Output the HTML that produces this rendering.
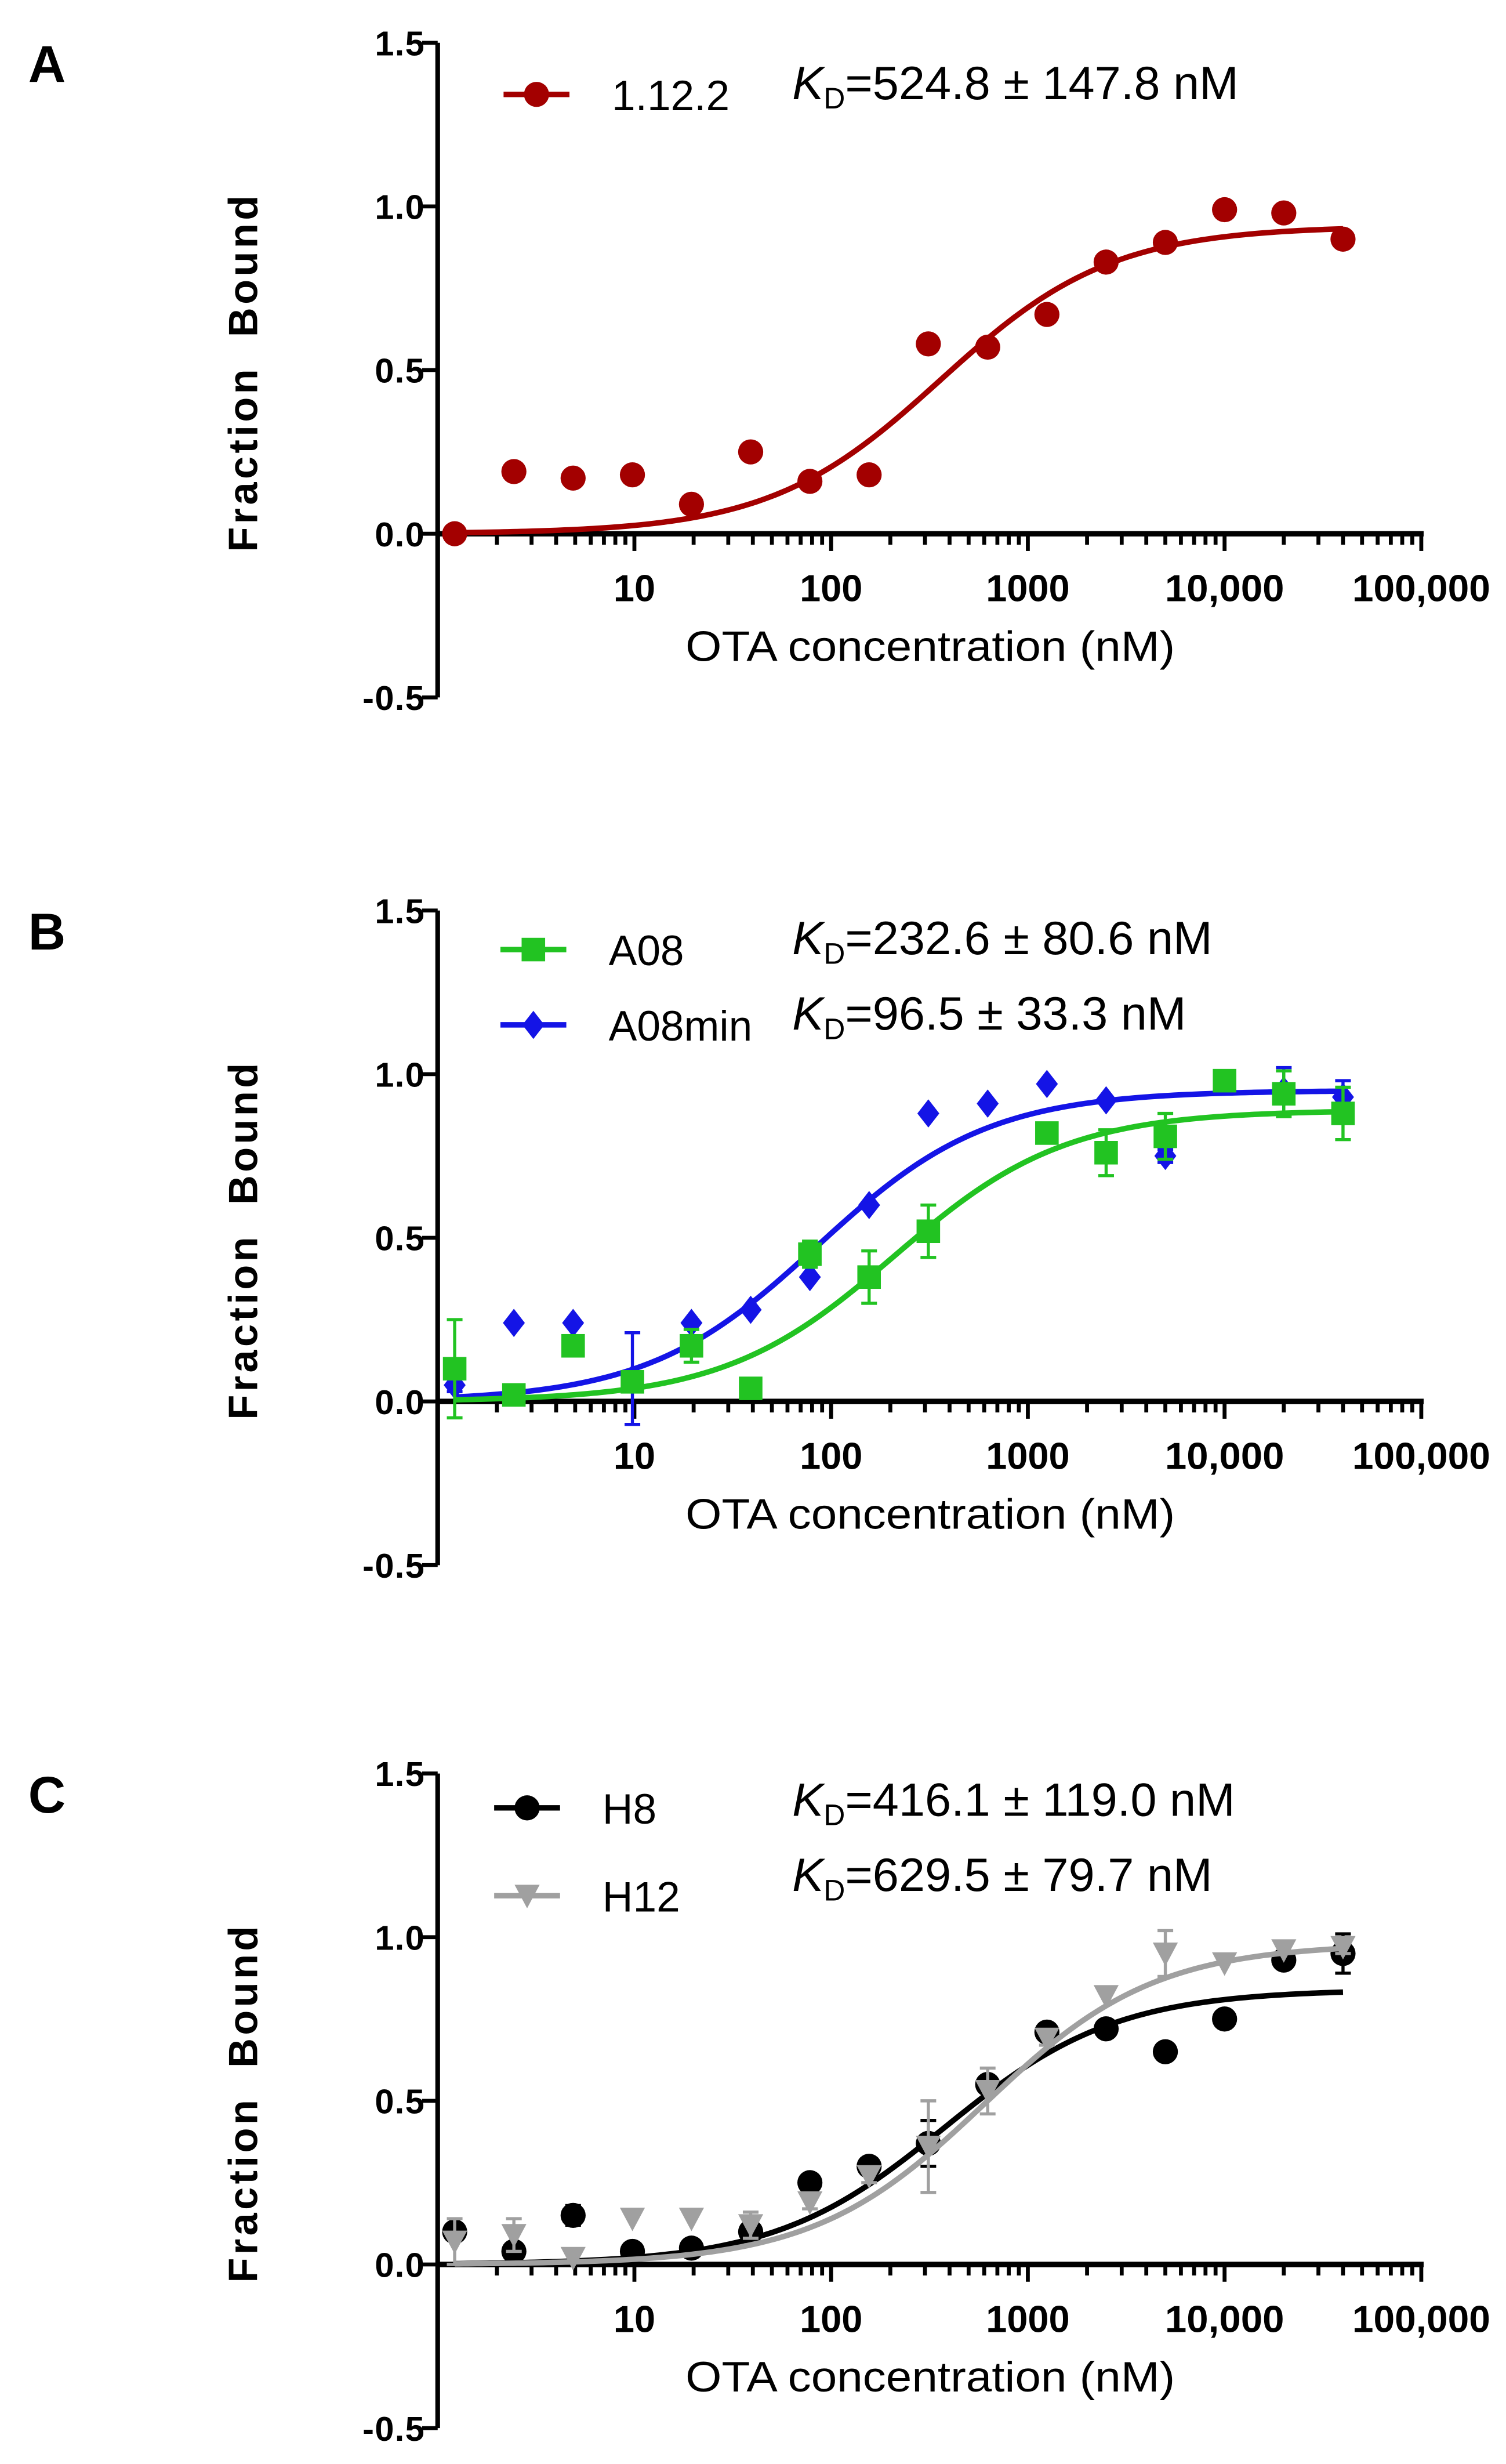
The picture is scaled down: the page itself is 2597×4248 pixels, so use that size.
<!DOCTYPE html>
<html><head><meta charset="utf-8"><style>
html,body{margin:0;padding:0;background:#fff;}
svg{display:block;font-family:"Liberation Sans",Arial,sans-serif;}
</style></head><body>
<svg id="fig" width="2597" height="4248" viewBox="0 0 960 1570" xmlns="http://www.w3.org/2000/svg"></svg>
<script>
// shared x concentrations (nM)
const conc = [1.22, 2.44, 4.88, 9.77, 19.5, 39, 78, 156, 312, 625, 1250, 2500, 5000, 10000, 20000, 40000];
const xTickLabels = ["10", "100", "1000", "10,000", "100,000"];
const xTickValues = [10, 100, 1000, 10000, 100000];
const yTickValues = [-0.5, 0, 0.5, 1.0, 1.5];
const yTickLabels = ["-0.5", "0.0", "0.5", "1.0", "1.5"];

// Panel A
const a_1122 = [0.0, 0.19, 0.17, 0.18, 0.09, 0.25, 0.16, 0.18, 0.58, 0.57, 0.67, 0.83, 0.89, 0.99, 0.98, 0.90];
const a_1122_fit = [0.94, 360]; // top, half-max conc

// Panel B
const b_A08 = [0.10, 0.02, 0.17, 0.06, 0.17, 0.04, 0.45, 0.38, 0.52, null, 0.82, 0.76, 0.81, 0.98, 0.94, 0.88];
const b_A08_err = [0.15, 0.02, 0.03, 0.03, 0.05, 0.01, 0.04, 0.08, 0.08, 0, 0.03, 0.07, 0.07, 0.02, 0.07, 0.08];
const b_A08_fit = [0.89, 210];
const b_A08min = [0.05, 0.24, 0.24, 0.07, 0.24, 0.28, 0.38, 0.60, 0.88, 0.91, 0.97, 0.92, 0.75, null, 0.95, 0.93];
const b_A08min_err = [0.02, 0, 0, 0.14, 0, 0, 0, 0, 0, 0, 0, 0, 0.02, 0, 0.07, 0.05];
const b_A08min_fit = [0.95, 85];

// Panel C
const c_H8 = [0.10, 0.04, 0.15, 0.04, 0.05, 0.10, 0.25, 0.30, 0.37, 0.55, 0.71, 0.72, 0.65, 0.75, 0.93, 0.95];
const c_H8_err = [0.02, 0.02, 0.03, 0.01, 0.02, 0.02, 0.02, 0.02, 0.07, 0.02, 0.02, 0.01, 0.01, 0.01, 0.01, 0.06];
const c_H8_fit = [0.84, 380];
const c_H12 = [0.07, 0.09, 0.02, 0.14, 0.14, 0.12, 0.19, 0.27, 0.36, 0.53, 0.69, 0.82, 0.95, 0.92, 0.96, 0.97];
const c_H12_err = [0.07, 0.05, 0.01, 0, 0, 0.04, 0.02, 0.02, 0.14, 0.07, 0.02, 0.01, 0.07, 0.01, 0.01, 0.02];
const c_H12_fit = [0.98, 600];

const NS = "http://www.w3.org/2000/svg";
const svg = document.getElementById("fig");
function mk(tag, attrs, parent, text) {
  const e = document.createElementNS(NS, tag);
  for (const k in attrs) e.setAttribute(k, attrs[k]);
  if (text !== undefined) e.textContent = text;
  (parent || svg).appendChild(e);
  return e;
}
const X0 = 279, DEC = 125.4, XEND = 906;
function xs(v) { return X0 + Math.log10(v) * DEC; }

function marker(g, shape, cx, cy, color) {
  let m;
  if (shape === "circle") m = mk("circle", {cx: cx, cy: cy, r: 8, fill: color}, g);
  else if (shape === "square") m = mk("rect", {x: cx - 7.5, y: cy - 7.5, width: 15, height: 15, fill: color}, g);
  else if (shape === "diamond") m = mk("polygon", {points: `${cx},${cy-9} ${cx+7},${cy} ${cx},${cy+9} ${cx-7},${cy}`, fill: color}, g);
  else m = mk("polygon", {points: `${cx-8},${cy-7} ${cx+8},${cy-7} ${cx},${cy+8}`, fill: color}, g);
  return m;
}

function panel(off, letter, series, legends, kds) {
  const Y0 = 340 + off, U = 208.6;
  const ys = v => Y0 - v * U;
  const g = mk("g", {});
  
  
  const lab = mk("text", {x: 18, y: 52 + off, "font-size": 33, "font-weight": "bold"}, g, letter);
  
  
  const ya = mk("line", {x1: X0, y1: ys(1.5), x2: X0, y2: ys(-0.5), stroke: "#000", "stroke-width": 3}, g);
  
  
  yTickValues.forEach((v, i) => {
    mk("line", {x1: X0 - 10, y1: ys(v), x2: X0, y2: ys(v), stroke: "#000", "stroke-width": 2.5}, g);
    const t = mk("text", {x: X0 - 8, y: ys(v) + 8, "font-size": 22, "font-weight": "bold", "text-anchor": "end", "letter-spacing": "0.5"}, g, yTickLabels[i]);
    
    
  });
  const xa = mk("line", {x1: X0, y1: Y0, x2: XEND + 1.5, y2: Y0, stroke: "#000", "stroke-width": 3.5}, g);
  
  
  for (let d = 0; d < 5; d++) {
    for (let k = 2; k <= 10; k++) {
      const v = Math.pow(10, d) * k;
      const major = k === 10;
      mk("line", {x1: xs(v), y1: Y0, x2: xs(v), y2: Y0 + (major ? 11 : 7), stroke: "#000", "stroke-width": 2.5}, g);
    }
  }
  xTickValues.forEach((v, i) => {
    const attrs = {x: xs(v), y: Y0 + 43, "font-size": 24, "font-weight": "bold", "text-anchor": "middle"};
    if (i === 3) { attrs.textLength = 76; attrs.lengthAdjust = "spacingAndGlyphs"; }
    if (i === 4) { attrs.textLength = 88; attrs.lengthAdjust = "spacingAndGlyphs"; }
    const t = mk("text", attrs, g, xTickLabels[i]);
    
    
  });
  const xt = mk("text", {x: 593, y: Y0 + 81, "font-size": 27, "text-anchor": "middle", textLength: 312, lengthAdjust: "spacingAndGlyphs"}, g, "OTA concentration (nM)");
  
  
  const ytt = mk("text", {x: 0, y: 0, "font-size": 26, "font-weight": "bold", "text-anchor": "middle", "letter-spacing": "2", transform: `translate(164 ${237 + off}) rotate(-90)`}, g, "Fraction\u00a0\u00a0Bound");
  
  

  series.forEach(s => {
    const sg = mk("g", {}, g);
    
    
    let d = "";
    for (let i = 0; i <= 200; i++) {
      const lv = Math.log10(conc[0]) + (Math.log10(conc[conc.length - 1]) - Math.log10(conc[0])) * i / 200;
      const c = Math.pow(10, lv);
      const y = s.fit[0] * c / (s.fit[1] + c);
      d += (i ? "L" : "M") + xs(c).toFixed(2) + "," + ys(y).toFixed(2);
    }
    const fp = mk("path", {d: d, fill: "none", stroke: s.color, "stroke-width": 3.5}, sg);
    
    
    s.vals.forEach((v, i) => {
      if (v === null) return;
      const cx = xs(conc[i]), cy = ys(v);
      const e = s.err ? s.err[i] : 0;
      if (e > 0.015) {
        mk("line", {x1: cx, y1: ys(v + e), x2: cx, y2: ys(v - e), stroke: s.color, "stroke-width": 2}, sg);
        mk("line", {x1: cx - 5, y1: ys(v + e), x2: cx + 5, y2: ys(v + e), stroke: s.color, "stroke-width": 2}, sg);
        mk("line", {x1: cx - 5, y1: ys(v - e), x2: cx + 5, y2: ys(v - e), stroke: s.color, "stroke-width": 2}, sg);
      }
      const m = marker(sg, s.shape, cx, cy, s.color);
      
      
    });
  });
  legends.forEach(L => {
    const lg = mk("g", {}, g);
    
    
    mk("line", {x1: L.x1, y1: L.y + off, x2: L.x1 + 42, y2: L.y + off, stroke: L.color, "stroke-width": 3.5}, lg);
    marker(lg, L.shape, L.x1 + 21, L.y + off, L.color);
    mk("text", {x: L.tx, y: L.y + off + 10, "font-size": 27}, lg, L.label);
  });
  kds.forEach(K => {
    const t = mk("text", {x: 505, y: K.y + off, "font-size": 30}, g);
    
    
    mk("tspan", {"font-style": "italic"}, t, "K");
    mk("tspan", {"font-size": 19, dy: 6}, t, "D");
    mk("tspan", {dy: -6}, t, K.text);
  });
}

panel(0, "A",
  [{name: "1.12.2", vals: a_1122, fit: a_1122_fit, color: "#a30000", shape: "circle"}],
  [{x1: 321, y: 60, tx: 390, label: "1.12.2", color: "#a30000", shape: "circle"}],
  [{y: 63, text: "=524.8 ± 147.8 nM"}]);

panel(553, "B",
  [{name: "A08min", vals: b_A08min, err: b_A08min_err, fit: b_A08min_fit, color: "#1414e6", shape: "diamond"},
   {name: "A08", vals: b_A08, err: b_A08_err, fit: b_A08_fit, color: "#22c322", shape: "square"}],
  [{x1: 319, y: 52, tx: 388, label: "A08", color: "#22c322", shape: "square"},
   {x1: 319, y: 100, tx: 388, label: "A08min", color: "#1414e6", shape: "diamond"}],
  [{y: 55, text: "=232.6 ± 80.6 nM"}, {y: 103, text: "=96.5 ± 33.3 nM"}]);

panel(1103, "C",
  [{name: "H8", vals: c_H8, err: c_H8_err, fit: c_H8_fit, color: "#000000", shape: "circle"},
   {name: "H12", vals: c_H12, err: c_H12_err, fit: c_H12_fit, color: "#a0a0a0", shape: "triangle"}],
  [{x1: 315, y: 49, tx: 384, label: "H8", color: "#000000", shape: "circle"},
   {x1: 315, y: 105, tx: 384, label: "H12", color: "#a0a0a0", shape: "triangle"}],
  [{y: 54, text: "=416.1 ± 119.0 nM"}, {y: 102, text: "=629.5 ± 79.7 nM"}]);
</script>
</body></html>
